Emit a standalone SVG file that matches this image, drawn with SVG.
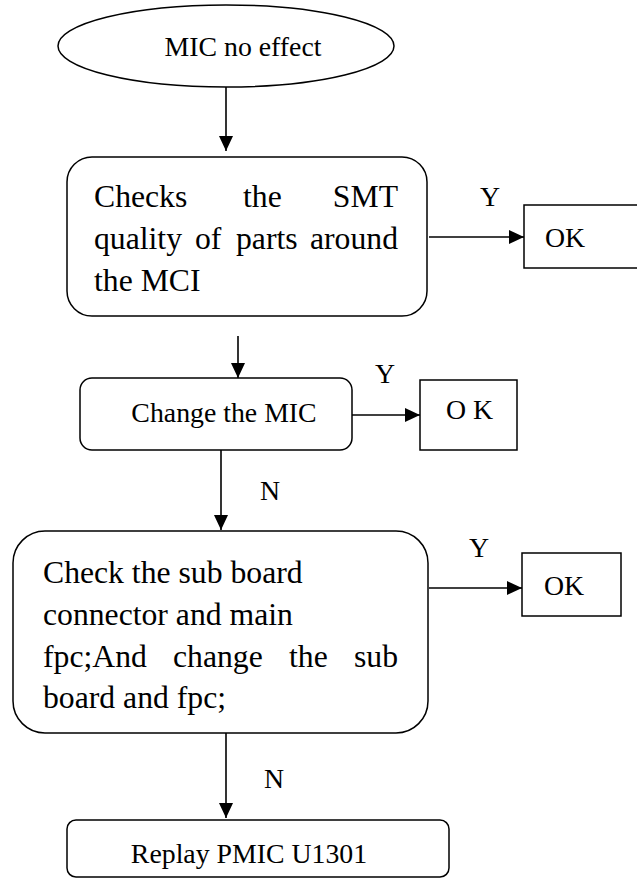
<svg xmlns="http://www.w3.org/2000/svg" width="637" height="879" viewBox="0 0 637 879">
<style>
  .shape { fill: #ffffff; stroke: #000000; stroke-width: 1.5; }
  .conn { stroke: #000000; stroke-width: 1.6; fill: none; marker-end: url(#arrow); }
  .t { font-family: "Liberation Serif", "Times New Roman", serif; fill: #000000; }
  .big { font-size: 31.7px; }
  .small { font-size: 27.8px; }
</style>
<defs>
  <marker id="arrow" markerUnits="userSpaceOnUse" markerWidth="15" markerHeight="15" refX="15" refY="7" orient="auto">
    <path d="M0,0 L15,7 L0,14 Z" fill="#000000"/>
  </marker>
</defs>
<rect x="0" y="0" width="637" height="879" fill="#ffffff"/>

<g id="start">
  <ellipse class="shape" cx="226" cy="46" rx="168" ry="41"/>
  <text class="t small" x="243" y="56" text-anchor="middle">MIC no effect</text>
</g>

<g id="check-smt">
  <rect class="shape" x="67" y="157" width="360" height="159" rx="25" ry="25"/>
  <text class="t big" x="94" y="207">Checks</text>
  <text class="t big" x="243" y="207">the</text>
  <text class="t big" x="398" y="207" text-anchor="end">SMT</text>
  <text class="t big" x="94" y="249">quality</text>
  <text class="t big" x="195" y="249">of</text>
  <text class="t big" x="236" y="249">parts</text>
  <text class="t big" x="398" y="249" text-anchor="end">around</text>
  <text class="t big" x="94" y="291">the MCI</text>
</g>

<g id="ok1">
  <rect class="shape" x="524" y="205" width="120" height="63"/>
  <text class="t small" x="545" y="247">OK</text>
</g>

<g id="change-mic">
  <rect class="shape" x="80" y="378" width="272" height="72" rx="12" ry="12"/>
  <text class="t small" x="224" y="422" text-anchor="middle">Change the MIC</text>
</g>

<g id="ok2">
  <rect class="shape" x="420" y="380" width="97" height="70"/>
  <text class="t small" x="446" y="419">O K</text>
</g>

<g id="check-sub">
  <rect class="shape" x="13" y="531" width="415" height="202" rx="32" ry="32"/>
  <text class="t big" x="43" y="583">Check the sub board</text>
  <text class="t big" x="43" y="625">connector and main</text>
  <text class="t big" x="43" y="667">fpc;And</text>
  <text class="t big" x="173" y="667">change</text>
  <text class="t big" x="289" y="667">the</text>
  <text class="t big" x="398" y="667" text-anchor="end">sub</text>
  <text class="t big" x="43" y="708">board and fpc;</text>
</g>

<g id="ok3">
  <rect class="shape" x="522" y="553" width="99" height="63"/>
  <text class="t small" x="544" y="595">OK</text>
</g>

<g id="replace-pmic">
  <rect class="shape" x="67" y="820" width="382" height="57" rx="9" ry="9"/>
  <text class="t small" x="249" y="863" text-anchor="middle">Replay PMIC U1301</text>
</g>

<g id="connectors">
  <line class="conn" x1="226" y1="87" x2="226" y2="151"/>
  <line class="conn" x1="429" y1="237" x2="524" y2="237"/>
  <line class="conn" x1="238" y1="336" x2="238" y2="378"/>
  <line class="conn" x1="352" y1="415" x2="420" y2="415"/>
  <line class="conn" x1="221" y1="450" x2="221" y2="530"/>
  <line class="conn" x1="429" y1="588" x2="522" y2="588"/>
  <line class="conn" x1="226" y1="733" x2="226" y2="818"/>
</g>

<g id="labels">
  <text class="t small" x="480" y="206">Y</text>
  <text class="t small" x="375" y="383">Y</text>
  <text class="t small" x="469" y="557">Y</text>
  <text class="t small" x="260" y="500">N</text>
  <text class="t small" x="264" y="788">N</text>
</g>
</svg>
